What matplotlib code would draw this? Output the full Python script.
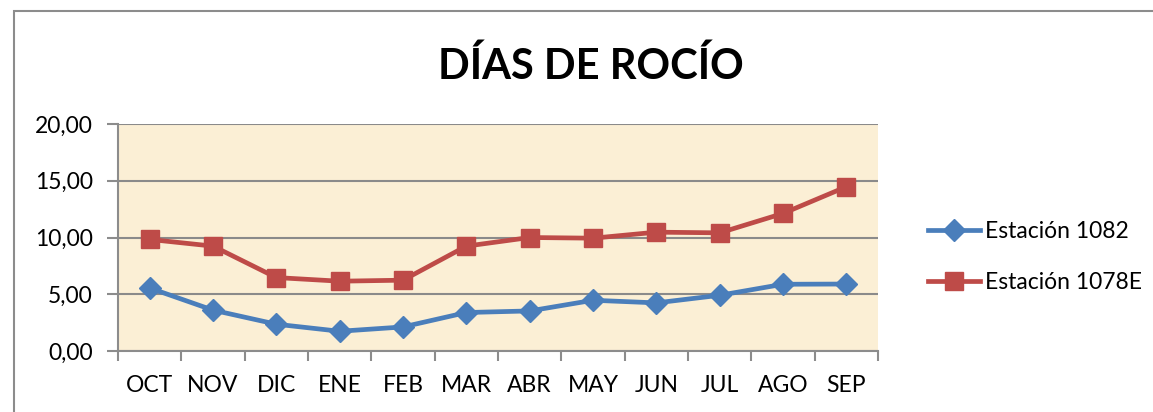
import matplotlib
matplotlib.use("Agg")
import matplotlib.pyplot as plt
from matplotlib.patches import Rectangle
from matplotlib.ticker import FixedLocator, FuncFormatter

months = ["OCT", "NOV", "DIC", "ENE", "FEB", "MAR", "ABR", "MAY", "JUN", "JUL", "AGO", "SEP"]
est_1082 = [5.55, 3.6, 2.36, 1.74, 2.12, 3.39, 3.53, 4.47, 4.24, 4.91, 5.88, 5.9]
est_1078e = [9.83, 9.24, 6.47, 6.15, 6.24, 9.24, 10.0, 9.94, 10.47, 10.41, 12.12, 14.47]
labels = ["Estación 1082", "Estación 1078E"]

W, H = 1153, 412
plt.rcParams["font.family"] = ["Lato", "DejaVu Sans"]
FS = 16.5

fig = plt.figure(figsize=(W / 100, H / 100), dpi=100)
fig.patch.set_facecolor("white")

# outer chart frame (cropped on the right and bottom)
fig.patches.append(Rectangle((14 / W, -0.1), 1.2, 1 - 11 / H + 0.1, transform=fig.transFigure,
                             fill=False, edgecolor="#8c8c8c", linewidth=1.5))

ax = fig.add_axes([118 / W, (H - 351) / H, 760 / W, 227 / H])
ax.set_facecolor("#fbefd5")

x = list(range(len(months)))
ax.plot(x, est_1082, color="#4a7ebb", lw=3.4, marker="D", ms=11, label=labels[0], zorder=3)
ax.plot(x, est_1078e, color="#be4b48", lw=3.4, marker="s", ms=13, label=labels[1], zorder=3)

ax.set_xlim(-0.5, 11.5)
ax.set_ylim(0, 20)
ax.set_yticks([0, 5, 10, 15, 20])
ax.yaxis.set_major_formatter(FuncFormatter(lambda v, p: f"{v:.2f}".replace(".", ",")))
ax.set_xticks(x)
ax.set_xticklabels(months)
ax.xaxis.set_minor_locator(FixedLocator([i - 0.5 for i in range(13)]))
ax.tick_params(axis="x", which="major", length=0, pad=17, labelsize=FS)
ax.tick_params(axis="x", which="minor", length=7, width=1.5, color="#8c8c8c", direction="out")
ax.tick_params(axis="y", length=8, width=1.5, color="#8c8c8c", pad=10, labelsize=FS)

ax.grid(axis="y", color="#8a8a8a", lw=1.5, zorder=1)
ax.set_axisbelow(True)
for s in ["top", "right"]:
    ax.spines[s].set_visible(False)
for s in ["left", "bottom"]:
    ax.spines[s].set_color("#8c8c8c")
    ax.spines[s].set_linewidth(1.5)

fig.text(591 / W, 1 - 66 / H, "DÍAS DE ROCÍO", ha="center", va="center",
         fontsize=30, fontweight="bold")

fig.legend(loc="center left", bbox_to_anchor=(907 / W, 1 - 257 / H), frameon=False,
           fontsize=FS, handlelength=2.3, handletextpad=0.2, labelspacing=1.35)

fig.savefig("out.png", dpi=100)
